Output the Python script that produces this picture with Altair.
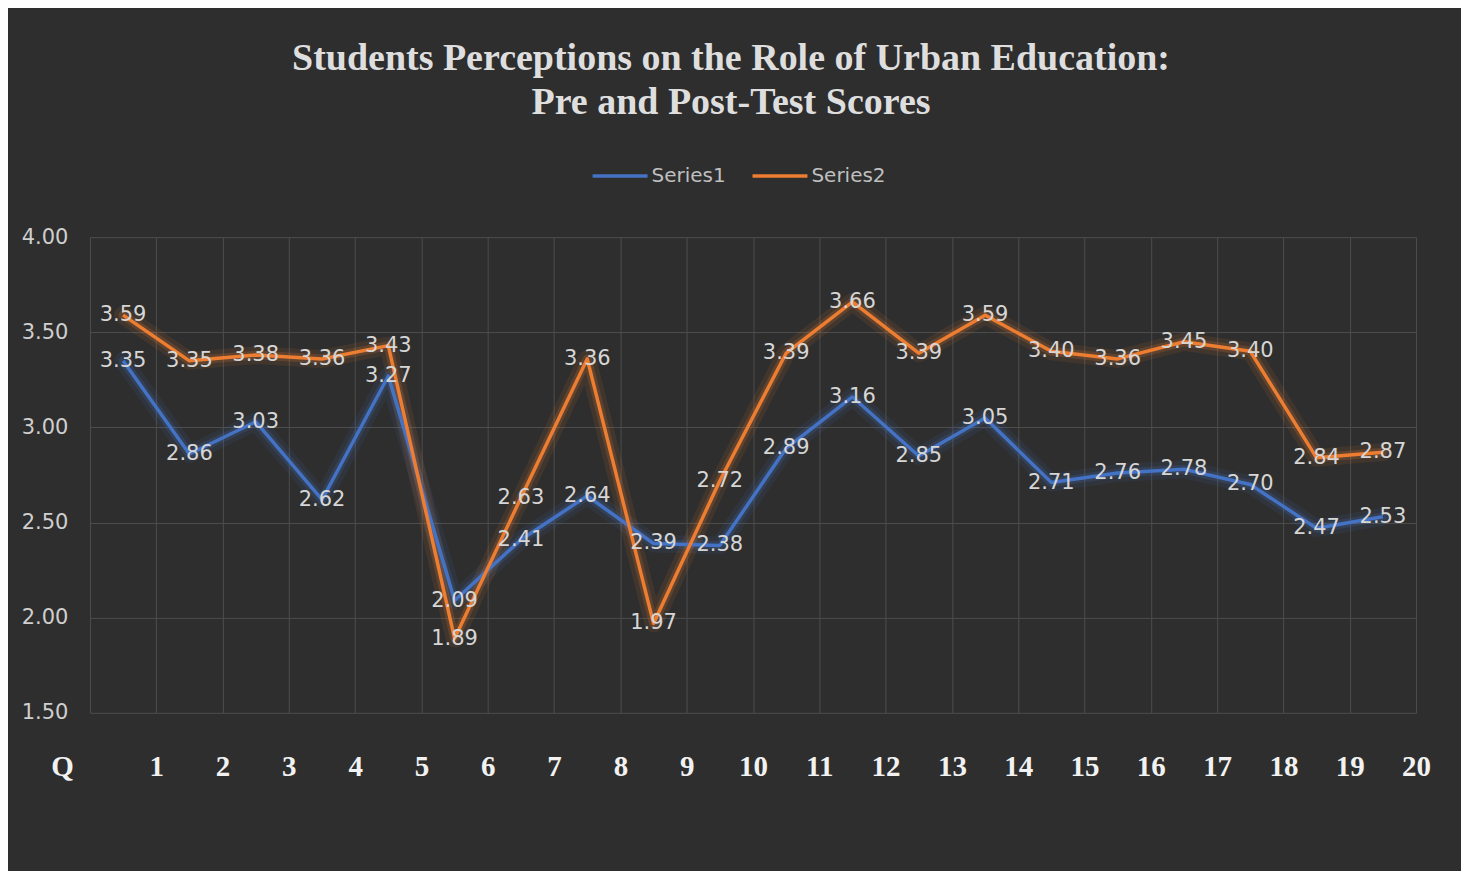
import altair as alt
import pandas as pd

questions = list(range(1, 21))
series1 = [3.35, 2.86, 3.03, 2.62, 3.27, 2.09, 2.41, 2.64, 2.39, 2.38,
           2.89, 3.16, 2.85, 3.05, 2.71, 2.76, 2.78, 2.70, 2.47, 2.53]
series2 = [3.59, 3.35, 3.38, 3.36, 3.43, 1.89, 2.63, 3.36, 1.97, 2.72,
           3.39, 3.66, 3.39, 3.59, 3.40, 3.36, 3.45, 3.40, 2.84, 2.87]
series_names = ["Series1", "Series2"]
series_colors = ["#4472c4", "#ed7d31"]
y_ticks = [1.5, 2.0, 2.5, 3.0, 3.5, 4.0]
grid_positions = [q - 0.5 for q in questions] + [questions[-1] + 0.5]
title_lines = ["Students Perceptions on the Role of Urban Education:",
               "Pre and Post-Test Scores"]

df = pd.DataFrame({
    "q": questions + questions,
    "value": series1 + series2,
    "series": [series_names[0]] * len(series1) + [series_names[1]] * len(series2),
})

x = alt.X(
    "q:Q",
    scale=alt.Scale(domain=[0.5, 20.5], nice=False, zero=False),
    axis=alt.Axis(
        values=grid_positions, grid=True, gridColor="#4d4d4d", gridWidth=1,
        domain=False, ticks=False, labelOverlap=False, labelFlush=False,
        labelExpr="datum.value < 1 ? '' : toString(floor(datum.value))",
        labelFont="Liberation Serif", labelFontWeight="bold", labelFontSize=29,
        labelColor="#f2f2f2", labelPadding=40, labelBaseline="top",
        title="Q", titleFont="Liberation Serif", titleFontWeight="bold",
        titleFontSize=29, titleColor="#f2f2f2", titleX=-28, titleY=40,
        titleBaseline="top", titleAlign="center", titleAngle=0,
    ),
)
y = alt.Y(
    "value:Q",
    scale=alt.Scale(domain=[1.5, 4.0], nice=False, zero=False),
    axis=alt.Axis(
        values=y_ticks, format=".2f", grid=True, gridColor="#4d4d4d", gridWidth=1,
        domain=False, ticks=False, labelFont="DejaVu Sans", labelFontSize=21,
        labelColor="#cfcfcf", labelPadding=22, title=None,
    ),
)
color = alt.Color(
    "series:N",
    scale=alt.Scale(domain=series_names, range=series_colors),
    legend=alt.Legend(
        orient="none", direction="horizontal", legendX=501, legendY=-91,
        title=None, symbolType="stroke", symbolSize=3025, symbolStrokeWidth=3.5,
        symbolOpacity=1,
        labelFont="DejaVu Sans", labelFontSize=20, labelColor="#bfbfbf",
        labelOffset=2, columnPadding=19,
    ),
)

base = alt.Chart(df).encode(x=x, y=y, color=color)

glow_wide = base.mark_line(strokeWidth=18, opacity=0.10, strokeCap="round", strokeJoin="round")
glow_mid = base.mark_line(strokeWidth=9, opacity=0.18, strokeCap="round", strokeJoin="round")
lines = base.mark_line(strokeWidth=3.5, strokeJoin="round")
labels = alt.Chart(df).mark_text(font="DejaVu Sans", fontSize=21, color="#d6d6d6").encode(
    x=x, y=y, text=alt.Text("value:Q", format=".2f"))

chart = alt.layer(glow_wide, glow_mid, lines, labels).properties(
    width=1327, height=476,
    autosize=alt.AutoSizeParams(type="none"),
    padding={"left": 82, "top": 229, "right": 45, "bottom": 170},
    background="#2e2e2e",
    title=alt.Title(
        title_lines, font="Liberation Serif", fontSize=38, fontWeight="bold",
        color="#dedede", anchor="middle", frame="group", offset=24, dx=-22,
        lineHeight=44,
    ),
).configure_view(stroke=None)

chart.save("out.html", embed_options={"renderer": "svg", "actions": False})
